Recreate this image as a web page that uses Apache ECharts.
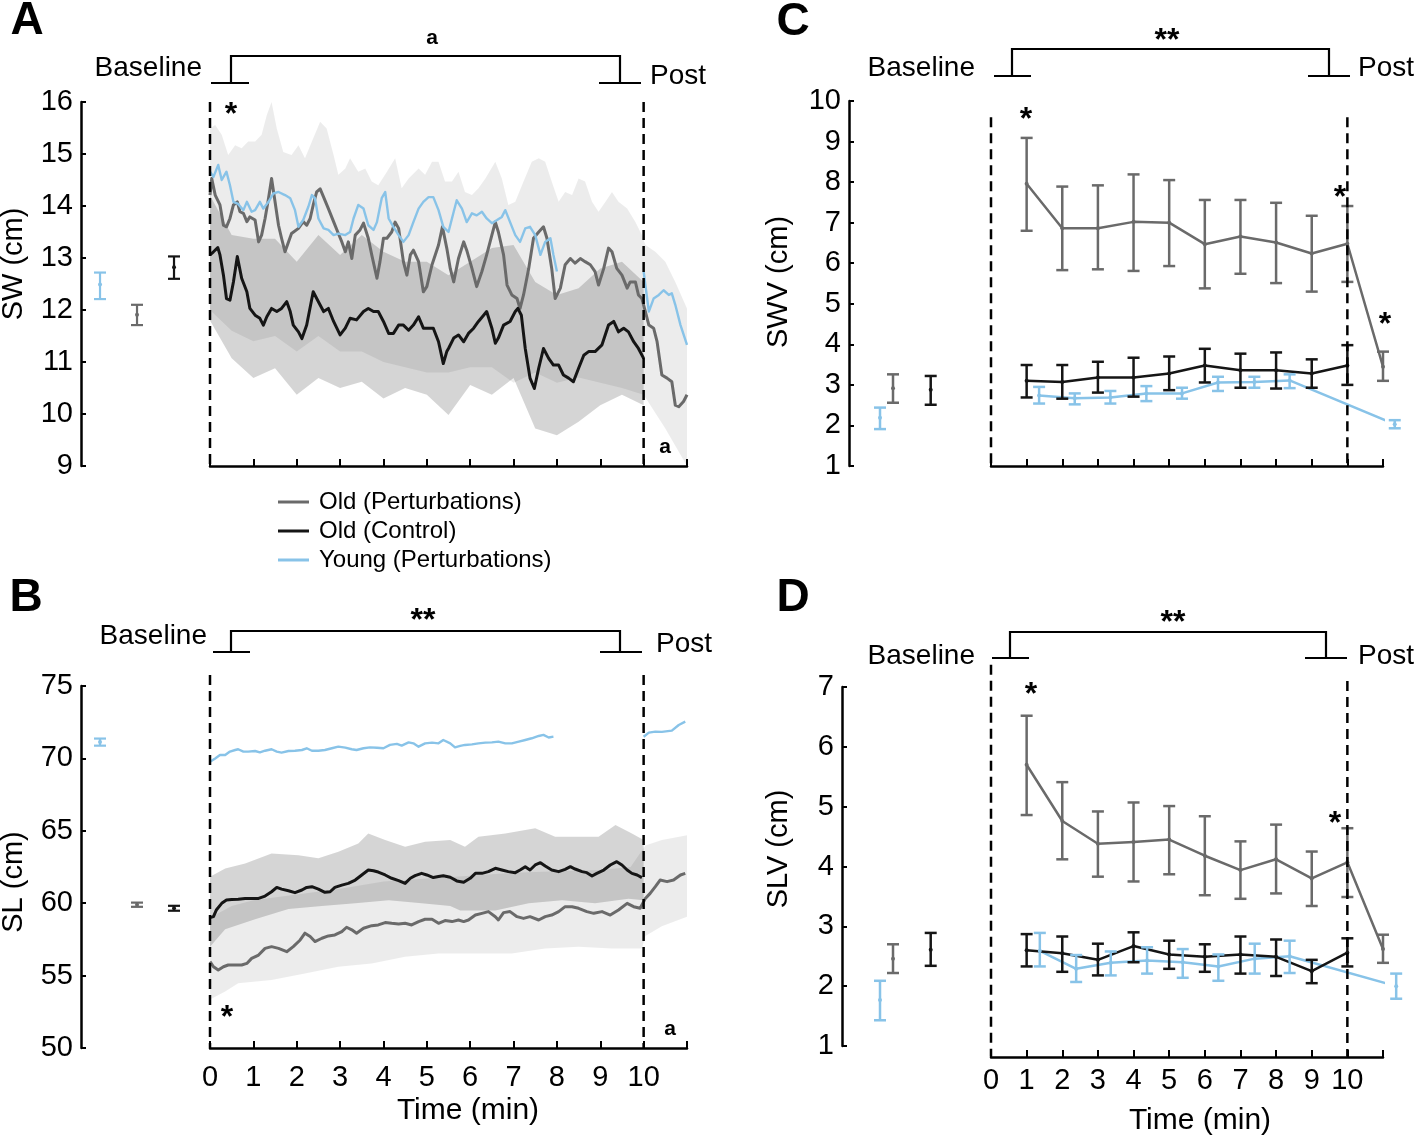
<!DOCTYPE html>
<html><head><meta charset="utf-8">
<script src="https://cdn.jsdelivr.net/npm/echarts@6/dist/echarts.min.js"></script>
<style>html,body{margin:0;padding:0;background:#fff}#c{width:1418px;height:1141px}</style>
</head><body><div id="c"></div>
<script>
// ---------------- DATA ----------------
const SERIES_NAMES = ['Old (Perturbations)', 'Old (Control)', 'Young (Perturbations)'];
const X_TICK_LABELS = ['0','1','2','3','4','5','6','7','8','9','10',''];

// Panel A: SW (cm), [time (min), value]
const A_oldP = [[0,14.21],[0.04,14.53],[0.12,14.21],[0.23,14.02],[0.31,13.63],[0.38,13.6],[0.46,13.76],[0.54,14.02],[0.63,14.08],[0.69,13.89],[0.77,13.86],[0.85,13.7],[0.92,13.79],[1.04,13.73],[1.12,13.31],[1.19,13.44],[1.27,13.76],[1.35,14.15],[1.42,14.53],[1.5,14.08],[1.58,13.63],[1.65,13.38],[1.73,13.12],[1.81,13.31],[1.88,13.47],[2.04,13.57],[2.15,13.7],[2.23,13.63],[2.31,13.76],[2.38,14.02],[2.46,14.27],[2.54,14.33],[2.62,14.17],[2.73,13.95],[2.85,13.7],[2.96,13.47],[3.04,13.31],[3.12,13.12],[3.19,13.31],[3.27,12.99],[3.35,13.44],[3.46,13.54],[3.54,13.67],[3.65,13.38],[3.73,13.06],[3.85,12.61],[3.92,12.93],[4.0,13.38],[4.08,13.38],[4.19,13.5],[4.27,13.69],[4.35,13.57],[4.46,12.93],[4.54,12.67],[4.62,13.06],[4.69,13.15],[4.81,12.93],[4.92,12.35],[5.0,12.45],[5.12,12.87],[5.27,13.25],[5.36,13.6],[5.46,13.19],[5.54,12.8],[5.62,12.54],[5.73,12.99],[5.85,13.31],[5.92,13.15],[6.04,12.8],[6.15,12.45],[6.27,12.74],[6.38,13.06],[6.5,13.44],[6.58,13.69],[6.65,13.5],[6.77,13.06],[6.85,12.48],[6.96,12.29],[7.08,12.22],[7.15,12.03],[7.23,12.29],[7.35,12.8],[7.46,13.38],[7.58,13.5],[7.69,13.6],[7.77,13.38],[7.88,12.8],[7.96,12.22],[8.08,12.42],[8.19,12.87],[8.31,12.99],[8.42,12.9],[8.54,12.99],[8.65,12.93],[8.77,12.87],[8.88,12.74],[8.96,12.48],[9.08,12.8],[9.19,13.19],[9.27,13.12],[9.38,12.8],[9.5,12.67],[9.62,12.42],[9.69,12.54],[9.81,12.54],[9.88,12.29],[9.96,12.22],[10.04,11.97],[10.12,11.71],[10.23,11.65],[10.31,11.39],[10.42,10.75],[10.54,10.69],[10.65,10.62],[10.73,10.17],[10.81,10.14],[10.92,10.24],[11.0,10.37]];
const A_oldC = [[0,13.06],[0.08,13.12],[0.18,13.2],[0.23,13.06],[0.31,12.67],[0.38,12.22],[0.46,12.19],[0.54,12.54],[0.63,13.03],[0.73,12.61],[0.85,12.35],[0.92,12.03],[1.04,11.9],[1.15,11.84],[1.23,11.71],[1.31,11.87],[1.42,12.03],[1.54,11.97],[1.65,12.03],[1.77,12.16],[1.85,11.97],[1.92,11.71],[2.04,11.58],[2.12,11.45],[2.23,11.71],[2.38,12.35],[2.5,12.16],[2.62,11.97],[2.73,12.03],[2.85,11.78],[3.0,11.52],[3.12,11.65],[3.23,11.84],[3.38,11.81],[3.54,11.97],[3.65,12.03],[3.77,11.97],[3.88,11.97],[4.0,11.78],[4.12,11.55],[4.23,11.55],[4.35,11.71],[4.46,11.71],[4.58,11.61],[4.69,11.71],[4.81,11.87],[4.92,11.65],[5.04,11.65],[5.15,11.65],[5.27,11.39],[5.38,10.97],[5.46,11.2],[5.5,11.26],[5.62,11.46],[5.73,11.52],[5.85,11.39],[5.96,11.55],[6.08,11.65],[6.19,11.78],[6.31,11.9],[6.38,11.97],[6.5,11.65],[6.58,11.36],[6.65,11.46],[6.77,11.71],[6.92,11.78],[7.04,11.97],[7.1,12.03],[7.18,11.9],[7.27,11.26],[7.38,10.69],[7.48,10.49],[7.58,10.88],[7.69,11.26],[7.81,11.07],[7.92,10.94],[8.04,10.94],[8.15,10.75],[8.27,10.69],[8.38,10.62],[8.5,10.88],[8.62,11.13],[8.73,11.2],[8.88,11.2],[9.04,11.33],[9.19,11.71],[9.31,11.78],[9.42,11.58],[9.54,11.65],[9.65,11.58],[9.77,11.39],[9.88,11.26],[10.0,11.07]];
const A_young = [[0,14.66],[0.08,14.56],[0.19,14.79],[0.27,14.5],[0.38,14.66],[0.46,14.4],[0.54,14.08],[0.65,14.04],[0.77,13.92],[0.85,14.08],[0.96,13.89],[1.04,13.92],[1.15,14.08],[1.23,13.95],[1.35,14.08],[1.46,14.24],[1.58,14.27],[1.73,14.21],[1.85,14.15],[1.96,13.92],[2.04,13.6],[2.15,13.73],[2.27,13.99],[2.35,14.21],[2.42,14.15],[2.5,13.76],[2.62,13.57],[2.73,13.54],[2.85,13.44],[2.96,13.47],[3.12,13.44],[3.23,13.5],[3.31,13.76],[3.42,14.02],[3.54,13.95],[3.65,13.63],[3.77,13.54],[3.85,13.69],[3.96,14.15],[4.04,14.27],[4.12,13.76],[4.23,13.6],[4.35,13.44],[4.46,13.31],[4.58,13.44],[4.69,13.69],[4.81,13.95],[4.92,14.08],[5.04,14.17],[5.15,14.17],[5.27,13.92],[5.38,13.6],[5.5,13.5],[5.62,13.89],[5.69,14.11],[5.81,13.95],[5.92,13.69],[6.04,13.86],[6.15,13.82],[6.27,13.89],[6.38,13.76],[6.5,13.67],[6.62,13.73],[6.73,13.79],[6.81,13.92],[6.92,13.69],[7.04,13.44],[7.15,13.31],[7.27,13.57],[7.38,13.6],[7.5,13.44],[7.62,13.06],[7.73,13.31],[7.85,13.38],[7.92,13.06],[8.0,12.74]];
const A_youngPost = [[10.0,12.74],[10.12,11.97],[10.23,12.22],[10.35,12.29],[10.46,12.38],[10.58,12.29],[10.65,12.32],[10.73,12.1],[10.85,11.71],[11.0,11.33]];
const A_bandOldC_top = [[0,14.2],[0.5,13.44],[1,13.37],[1.5,13.37],[2,12.93],[2.5,13.44],[3,13.06],[3.5,13.44],[4,13.12],[4.5,12.93],[5,12.93],[5.5,12.67],[6,12.93],[6.5,13.19],[7,13.25],[7.5,12.54],[8,12.29],[8.5,12.42],[9,12.8],[9.5,12.93],[10,12.54]];
const A_bandOldC_bot = [[0,11.8],[0.5,11.07],[1,10.69],[1.5,10.88],[2,10.37],[2.5,10.69],[3,10.5],[3.5,10.62],[4,10.3],[4.5,10.5],[5,10.37],[5.5,9.98],[6,10.56],[6.5,10.37],[7,10.69],[7.5,9.72],[8,9.59],[8.5,9.85],[9,10.17],[9.5,10.37],[10,10.17]];
const A_bandOldP_top = [[0,15.49],[0.12,15.56],[0.27,15.37],[0.42,14.98],[0.58,15.17],[0.73,15.11],[0.88,15.24],[1.04,15.24],[1.19,15.37],[1.31,15.75],[1.42,16.0],[1.54,15.49],[1.69,15.04],[1.88,14.98],[2.04,15.17],[2.19,14.92],[2.35,15.24],[2.54,15.62],[2.69,15.49],[2.85,14.98],[2.96,14.6],[3.12,14.72],[3.23,14.92],[3.42,14.66],[3.58,14.72],[3.73,14.47],[3.88,14.4],[4.08,14.66],[4.27,14.92],[4.42,14.34],[4.58,14.53],[4.81,14.72],[4.96,14.6],[5.12,14.85],[5.27,14.85],[5.42,14.47],[5.58,14.47],[5.73,14.66],[5.88,14.27],[6.04,14.21],[6.19,14.34],[6.35,14.53],[6.58,14.85],[6.73,14.53],[6.88,14.02],[7.04,14.08],[7.23,14.47],[7.42,14.85],[7.58,14.92],[7.73,14.85],[7.88,14.47],[8.04,14.08],[8.19,14.27],[8.35,14.21],[8.5,14.53],[8.65,14.47],[8.81,14.08],[8.96,13.89],[9.12,14.08],[9.27,14.27],[9.42,14.08],[9.62,13.95],[9.81,13.69],[9.96,13.44],[10.04,13.25],[10.27,13.12],[10.5,12.93],[10.73,12.54],[11.0,12.03]];
const A_bandOldP_bot = [[0,12.0],[0.5,11.6],[1,11.4],[1.5,11.5],[2,11.2],[2.5,11.5],[3,11.2],[3.5,11.2],[4,11.0],[4.5,10.9],[5,10.8],[5.5,10.8],[6,10.9],[6.5,10.9],[7,10.6],[7.5,10.8],[8,10.6],[8.5,10.7],[9,10.6],[9.5,10.5],[10,10.37],[10.5,9.72],[11,9.0]];
// baseline order: Young, Old (Perturbations), Old (Control)
const A_baseMean = [12.49, 11.91, 12.82];
const A_baseLo = [12.21, 11.71, 12.6];
const A_baseHi = [12.72, 12.1, 13.03];

// Panel B: SL (cm)
const B_oldP = [[0,55.96],[0.08,55.61],[0.19,55.38],[0.31,55.61],[0.42,55.73],[0.58,55.73],[0.73,55.73],[0.85,55.84],[0.96,56.19],[1.12,56.42],[1.27,56.88],[1.42,57.0],[1.58,56.88],[1.77,56.65],[1.92,57.0],[2.08,57.46],[2.19,57.93],[2.31,57.7],[2.42,57.35],[2.58,57.58],[2.73,57.74],[2.88,57.81],[3.04,58.04],[3.15,58.34],[3.27,58.16],[3.38,57.93],[3.54,58.27],[3.73,58.45],[3.88,58.5],[4.04,58.66],[4.19,58.61],[4.35,58.57],[4.5,58.61],[4.65,58.5],[4.81,58.73],[4.96,58.89],[5.12,58.89],[5.27,58.61],[5.42,58.8],[5.58,58.73],[5.73,58.84],[5.85,58.73],[5.96,58.84],[6.12,59.18],[6.27,59.3],[6.42,59.42],[6.58,59.07],[6.65,58.84],[6.77,59.35],[6.92,59.42],[7.08,59.07],[7.23,58.95],[7.38,59.07],[7.58,58.84],[7.73,59.07],[7.88,59.18],[8.04,59.42],[8.19,59.76],[8.35,59.76],[8.5,59.65],[8.69,59.42],[8.85,59.3],[9.04,59.42],[9.23,59.18],[9.42,59.53],[9.62,59.99],[9.77,59.76],[9.92,59.65],[10.04,60.33],[10.15,60.68],[10.27,61.14],[10.38,61.6],[10.54,61.49],[10.69,61.6],[10.85,61.95],[10.96,62.06]];
const B_oldC = [[0,59.0],[0.08,59.07],[0.15,59.55],[0.27,59.99],[0.38,60.22],[0.5,60.26],[0.65,60.28],[0.81,60.33],[0.96,60.33],[1.12,60.33],[1.27,60.49],[1.42,60.79],[1.54,61.09],[1.65,60.97],[1.81,60.86],[1.96,60.73],[2.12,60.91],[2.23,61.09],[2.35,61.14],[2.5,60.97],[2.65,60.75],[2.77,60.79],[2.88,61.09],[3.04,61.25],[3.19,61.37],[3.35,61.6],[3.5,61.95],[3.65,62.29],[3.77,62.24],[3.88,62.15],[4.04,61.95],[4.19,61.72],[4.35,61.56],[4.5,61.37],[4.62,61.72],[4.73,61.9],[4.88,62.06],[5.0,61.95],[5.15,61.77],[5.27,61.84],[5.38,61.9],[5.54,61.79],[5.69,61.54],[5.85,61.45],[6.0,61.72],[6.12,62.06],[6.27,62.06],[6.42,62.18],[6.58,62.41],[6.73,62.29],[6.88,62.18],[7.04,62.11],[7.15,62.29],[7.27,62.52],[7.38,62.29],[7.5,62.64],[7.62,62.8],[7.73,62.57],[7.88,62.29],[8.04,62.18],[8.19,62.34],[8.31,62.52],[8.42,62.36],[8.58,62.18],[8.69,62.11],[8.81,61.88],[8.92,62.06],[9.08,62.29],[9.23,62.64],[9.38,62.87],[9.5,62.64],[9.62,62.29],[9.73,62.06],[9.85,61.95],[9.96,61.77]];
const B_young = [[0,69.77],[0.12,70.0],[0.23,70.23],[0.35,70.23],[0.46,70.47],[0.58,70.58],[0.65,70.63],[0.77,70.47],[0.88,70.47],[1.04,70.51],[1.15,70.42],[1.27,70.53],[1.42,70.63],[1.54,70.47],[1.65,70.4],[1.81,70.51],[1.96,70.53],[2.12,70.58],[2.23,70.7],[2.35,70.53],[2.5,70.53],[2.65,70.58],[2.81,70.7],[2.96,70.81],[3.12,70.74],[3.27,70.63],[3.38,70.58],[3.54,70.7],[3.69,70.76],[3.85,70.74],[4.0,70.7],[4.15,70.93],[4.31,71.0],[4.42,70.88],[4.58,71.11],[4.69,71.04],[4.81,70.81],[4.96,71.04],[5.12,71.09],[5.27,71.04],[5.38,71.27],[5.54,71.04],[5.65,70.76],[5.77,70.86],[5.88,70.93],[6.04,70.97],[6.19,71.04],[6.35,71.09],[6.5,71.11],[6.65,71.16],[6.81,71.04],[6.96,71.04],[7.12,71.16],[7.27,71.27],[7.42,71.39],[7.58,71.55],[7.69,71.62],[7.81,71.44],[7.92,71.5]];
const B_youngPost = [[10.0,71.5],[10.12,71.78],[10.27,71.85],[10.42,71.83],[10.65,71.92],[10.81,72.31],[10.96,72.54]];
const B_bandOldC_top = [[0,61.83],[0.35,62.4],[0.81,62.74],[1.42,63.43],[2.04,63.32],[2.5,63.1],[2.96,63.55],[3.42,64.13],[3.65,64.82],[4.04,64.36],[4.5,63.9],[4.96,64.24],[5.54,64.36],[5.88,63.9],[6.19,64.59],[6.81,64.82],[7.5,65.17],[7.96,64.59],[8.5,64.59],[8.96,64.59],[9.35,65.4],[9.73,64.82],[10,64.36]];
const B_bandOldC_bot = [[0,57.0],[0.35,58.2],[1.04,58.9],[1.81,59.6],[2.58,59.8],[3.35,60.0],[4.12,60.2],[4.88,60.0],[5.54,59.8],[5.77,59.5],[6.58,59.5],[7.35,60.0],[8.12,60.2],[8.88,60.0],[9.65,60.3],[10,60.2]];
const B_bandOldP_top = [[0,59.0],[0.5,59.8],[1,60.2],[2,60.6],[3,61.0],[4,61.5],[5,61.7],[6,61.9],[7,62.1],[8,62.2],[9,62.3],[9.7,62.5],[10.04,63.99],[10.42,64.36],[11,64.7]];
const B_bandOldP_bot = [[0,53.35],[0.35,53.9],[0.65,54.47],[1.42,54.7],[2.19,55.15],[2.96,55.61],[3.73,55.84],[4.5,56.3],[5.27,56.53],[6.19,56.53],[6.96,56.53],[7.73,56.88],[8.5,57.0],[9.27,56.88],[9.96,56.88],[10.04,57.74],[10.42,58.4],[11,59.07]];
const B_baseMean = [71.13, 59.9, 59.65];
const B_baseLo = [70.88, 59.75, 59.48];
const B_baseHi = [71.37, 60.04, 59.82];

// Panel C: SWV (cm)
const C_oldP_t = [1,2,3,4,5,6,7,8,9,10,11];
const C_oldP_mean = [7.96,6.86,6.86,7.02,7.0,6.47,6.66,6.51,6.24,6.48,3.45];
const C_oldP_lo = [6.8,5.83,5.85,5.81,5.93,5.38,5.74,5.51,5.3,5.54,3.1];
const C_oldP_hi = [9.09,7.89,7.92,8.19,8.05,7.56,7.56,7.49,7.17,7.41,3.82];
const C_oldC_t = [1,2,3,4,5,6,7,8,9,10];
const C_oldC_mean = [3.1,3.07,3.18,3.18,3.28,3.48,3.36,3.36,3.28,3.48];
const C_oldC_lo = [2.69,2.66,2.81,2.71,2.87,3.06,2.93,2.91,2.93,3.0];
const C_oldC_hi = [3.49,3.49,3.57,3.67,3.7,3.89,3.77,3.8,3.63,3.98];
const C_young_t = [1.35,2.35,3.35,4.36,5.36,6.37,7.39,8.38,11.33];
const C_young_mean = [2.74,2.67,2.69,2.79,2.79,3.06,3.07,3.11,2.03];
const C_young_lo = [2.54,2.52,2.54,2.6,2.66,2.85,2.93,2.92,1.93];
const C_young_hi = [2.95,2.79,2.85,2.97,2.93,3.2,3.2,3.26,2.13];
const C_baseMean = [2.19, 2.92, 2.88];
const C_baseLo = [1.91, 2.56, 2.51];
const C_baseHi = [2.44, 3.26, 3.22];

// Panel D: SLV (cm)
const D_oldP_t = [1,2,3,4,5,6,7,8,9,10,11];
const D_oldP_mean = [5.7,4.76,4.38,4.41,4.45,4.18,3.94,4.12,3.8,4.07,2.62];
const D_oldP_lo = [4.86,4.12,3.83,3.75,3.87,3.52,3.46,3.55,3.34,3.49,2.39];
const D_oldP_hi = [6.52,5.41,4.92,5.07,5.01,4.84,4.42,4.7,4.25,4.64,2.86];
const D_oldC_t = [1,2,3,4,5,6,7,8,9,10];
const D_oldC_mean = [2.6,2.55,2.44,2.67,2.53,2.49,2.53,2.49,2.25,2.56];
const D_oldC_lo = [2.33,2.24,2.18,2.4,2.29,2.24,2.21,2.17,2.05,2.33];
const D_oldC_hi = [2.87,2.83,2.71,2.9,2.76,2.7,2.83,2.78,2.44,2.8];
const D_young_t = [1.37,2.39,3.36,4.38,5.38,6.38,7.4,8.38,11.37];
const D_young_mean = [2.59,2.29,2.39,2.43,2.4,2.33,2.46,2.5,2.0];
const D_young_lo = [2.33,2.07,2.18,2.21,2.14,2.09,2.21,2.22,1.79];
const D_young_hi = [2.89,2.52,2.58,2.65,2.62,2.53,2.71,2.76,2.21];
const D_baseMean = [1.77, 2.46, 2.61];
const D_baseLo = [1.43, 2.22, 2.34];
const D_baseHi = [2.09, 2.7, 2.89];

// ---------------- LAYOUT / STYLE ----------------
const FONT = '"Liberation Sans", Arial, Helvetica, sans-serif';
const COL = { oldP: '#6a6a6a', oldC: '#151515', young: '#88c3e8' };
const BAND = { oldC: 'rgba(0,0,0,0.165)', oldP: 'rgba(0,0,0,0.075)' };
const GRIDS = [
  {left:81, top:102, width:110, height:364},   // 0 A baseline
  {left:210, top:102, width:477, height:364},  // 1 A main
  {left:81, top:686, width:110, height:362},   // 2 B baseline
  {left:210, top:686, width:477, height:362},  // 3 B main
  {left:849, top:101, width:110, height:365},  // 4 C baseline
  {left:991, top:101, width:392, height:365},  // 5 C main
  {left:842, top:687, width:110, height:359},  // 6 D baseline
  {left:991, top:687, width:392, height:359}   // 7 D main
];
// baseline slot positions (Young, Old P, Old C) on hidden axes
const SLOT_AB = [0, 1, 2], SLOT_CD = [0, 1, 3.9];
const BASE_X_RANGE = [[-0.514, 2.459], [-0.514, 2.459], [-2.385, 6.077], [-2.923, 5.538]];
const Y_RANGE = [[9, 16, 1], [50, 75, 5], [1, 10, 1], [1, 7, 1]];

const chart = echarts.init(document.getElementById('c'), null, {renderer: 'canvas'});

const zip4 = (t, m, lo, hi) => t.map((x, i) => [x, m[i], lo[i], hi[i]]);
const zip2 = (t, m) => t.map((x, i) => [x, m[i]]);

function errRender(color, lw, cap) {
  return function (params, api) {
    const x = api.value(0), m = api.value(1), lo = api.value(2), hi = api.value(3);
    const a = api.coord([x, hi]), b = api.coord([x, lo]), c = api.coord([x, m]);
    const st = {stroke: color, lineWidth: lw, fill: null};
    return {type: 'group', children: [
      {type: 'line', shape: {x1: a[0], y1: a[1], x2: b[0], y2: b[1]}, style: st},
      {type: 'line', shape: {x1: a[0] - cap, y1: a[1], x2: a[0] + cap, y2: a[1]}, style: st},
      {type: 'line', shape: {x1: b[0] - cap, y1: b[1], x2: b[0] + cap, y2: b[1]}, style: st},
      {type: 'circle', shape: {cx: c[0], cy: c[1], r: 2}, style: {fill: color}}
    ]};
  };
}
function bandRender(top, bot, fill) {
  return function (params, api) {
    if (params.dataIndex !== 0) return null;
    const pts = top.map(p => api.coord(p)).concat(bot.slice().reverse().map(p => api.coord(p)));
    return {type: 'polygon', shape: {points: pts}, style: {fill: fill}, silent: true};
  };
}

const xAxes = [], yAxes = [];
const axisLine = {show: true, onZero: false, lineStyle: {color: '#000', width: 2.5}};
for (let p = 0; p < 4; p++) {
  const [ymin, ymax, yint] = Y_RANGE[p];
  // baseline grid
  xAxes.push({gridIndex: 2 * p, type: 'value', min: BASE_X_RANGE[p][0], max: BASE_X_RANGE[p][1], show: false,
    axisLine: {onZero: false}});
  yAxes.push({gridIndex: 2 * p, type: 'value', min: ymin, max: ymax, interval: yint,
    axisLine: axisLine, splitLine: {show: false},
    axisTick: {show: true, inside: true, length: 5, lineStyle: {color: '#000', width: 2}},
    axisLabel: {color: '#000', fontSize: 29, fontFamily: FONT, margin: 8}});
  // main grid
  const showLab = (p === 1 || p === 3);
  xAxes.push({gridIndex: 2 * p + 1, type: 'value', min: 0, max: 11, interval: 1,
    offset: p === 3 ? 11 : 0,
    axisLine: axisLine, splitLine: {show: false},
    axisTick: {show: true, inside: true, length: 7, lineStyle: {color: '#000', width: 2}},
    axisLabel: {show: showLab, color: '#000', fontSize: 29, fontFamily: FONT, margin: p === 1 ? 15 : 9,
      formatter: v => X_TICK_LABELS[Math.round(v)]}});
  yAxes.push({gridIndex: 2 * p + 1, type: 'value', min: ymin, max: ymax, interval: yint, show: false,
    axisLine: {onZero: false}});
}

const series = [];
function lineS(gi, name, data, color, w, extra) {
  series.push(Object.assign({type: 'line', name: name, xAxisIndex: gi, yAxisIndex: gi, data: data,
    symbol: 'none', showSymbol: false, clip: false, animation: false, z: 3,
    lineStyle: {color: color, width: w, join: 'round'}, itemStyle: {color: color}}, extra || {}));
}
function errS(gi, data, color, lw) {
  series.push({type: 'custom', xAxisIndex: gi, yAxisIndex: gi, data: data, z: 4, clip: false,
    encode: {x: 0, y: [1, 2, 3]}, renderItem: errRender(color, lw, 6), itemStyle: {color: color}});
}
function bandS(gi, top, bot, fill) {
  series.push({type: 'custom', xAxisIndex: gi, yAxisIndex: gi, data: top, z: 1, silent: true,
    encode: {x: 0, y: 1}, renderItem: bandRender(top, bot, fill)});
}
function baselineS(gi, slots, mean, lo, hi, lw) {
  const cols = [COL.young, COL.oldP, COL.oldC];
  for (let i = 0; i < 3; i++) errS(gi, [[slots[i], mean[i], lo[i], hi[i]]], cols[i], lw);
}

// Panel A
bandS(1, A_bandOldP_top, A_bandOldP_bot, BAND.oldP);
bandS(1, A_bandOldC_top, A_bandOldC_bot, BAND.oldC);
lineS(1, SERIES_NAMES[0], A_oldP, COL.oldP, 3);
lineS(1, SERIES_NAMES[1], A_oldC, COL.oldC, 3);
lineS(1, SERIES_NAMES[2], A_young, COL.young, 2.4);
lineS(1, SERIES_NAMES[2], A_youngPost, COL.young, 2.4);
baselineS(0, SLOT_AB, A_baseMean, A_baseLo, A_baseHi, 2.2);
// Panel B
bandS(3, B_bandOldP_top, B_bandOldP_bot, BAND.oldP);
bandS(3, B_bandOldC_top, B_bandOldC_bot, BAND.oldC);
lineS(3, SERIES_NAMES[0], B_oldP, COL.oldP, 3);
lineS(3, SERIES_NAMES[1], B_oldC, COL.oldC, 3);
lineS(3, SERIES_NAMES[2], B_young, COL.young, 2.4);
lineS(3, SERIES_NAMES[2], B_youngPost, COL.young, 2.4);
baselineS(2, SLOT_AB, B_baseMean, B_baseLo, B_baseHi, 2.2);
// Panel C
lineS(5, SERIES_NAMES[2], zip2(C_young_t, C_young_mean), COL.young, 2.5);
errS(5, zip4(C_young_t, C_young_mean, C_young_lo, C_young_hi), COL.young, 2.5);
lineS(5, SERIES_NAMES[0], zip2(C_oldP_t, C_oldP_mean), COL.oldP, 2.5);
errS(5, zip4(C_oldP_t, C_oldP_mean, C_oldP_lo, C_oldP_hi), COL.oldP, 2.5);
lineS(5, SERIES_NAMES[1], zip2(C_oldC_t, C_oldC_mean), COL.oldC, 2.5);
errS(5, zip4(C_oldC_t, C_oldC_mean, C_oldC_lo, C_oldC_hi), COL.oldC, 2.5);
baselineS(4, SLOT_CD, C_baseMean, C_baseLo, C_baseHi, 2.5);
// Panel D
lineS(7, SERIES_NAMES[2], zip2(D_young_t, D_young_mean), COL.young, 2.5);
errS(7, zip4(D_young_t, D_young_mean, D_young_lo, D_young_hi), COL.young, 2.5);
lineS(7, SERIES_NAMES[0], zip2(D_oldP_t, D_oldP_mean), COL.oldP, 2.5);
errS(7, zip4(D_oldP_t, D_oldP_mean, D_oldP_lo, D_oldP_hi), COL.oldP, 2.5);
lineS(7, SERIES_NAMES[1], zip2(D_oldC_t, D_oldC_mean), COL.oldC, 2.5);
errS(7, zip4(D_oldC_t, D_oldC_mean, D_oldC_lo, D_oldC_hi), COL.oldC, 2.5);
baselineS(6, SLOT_CD, D_baseMean, D_baseLo, D_baseHi, 2.5);

chart.setOption({
  animation: false,
  backgroundColor: '#fff',
  grid: GRIDS,
  xAxis: xAxes,
  yAxis: yAxes,
  legend: {data: SERIES_NAMES, orient: 'vertical', left: 273, top: 485, itemGap: 5,
    itemWidth: 31, itemHeight: 3, icon: 'rect', selectedMode: false,
    textStyle: {fontSize: 24, fontFamily: FONT, color: '#000', padding: [0, 0, 0, 5], lineHeight: 24}},
  series: series
});

// ---------------- ANNOTATIONS ----------------
function T(x, y, text, size, o) {
  o = o || {};
  const al = o.align || 'center', va = o.va || 'middle';
  return {type: 'text', x: x, y: y, rotation: o.rot || 0, z: 20,
    style: {text: text, fontSize: size, fontFamily: FONT, fontWeight: o.bold ? 'bold' : 'normal', fill: '#000',
      align: al, verticalAlign: va, textAlign: al, textVerticalAlign: va}};
}
function L(x1, y1, x2, y2, w, dash) {
  return {type: 'line', z: 15, shape: {x1, y1, x2, y2}, style: {stroke: '#000', lineWidth: w || 2.2, lineDash: dash || null}};
}
function bracket(yTop, yFoot, xv1, xv2, f1, f2) {
  return [
    {type: 'polyline', z: 15, shape: {points: [[xv1, yFoot], [xv1, yTop], [xv2, yTop], [xv2, yFoot]]}, style: {stroke: '#000', lineWidth: 2.2, fill: null}},
    L(f1[0], yFoot, f1[1], yFoot, 2.2), L(f2[0], yFoot, f2[1], yFoot, 2.2)
  ];
}
function dashed(gi, t, vTop, vBot) {
  const a = chart.convertToPixel({gridIndex: gi}, [t, vTop]);
  const b = chart.convertToPixel({gridIndex: gi}, [t, vBot]);
  return L(a[0], a[1], b[0], b[1], 2.5, [10, 6]);
}
// asterisk glyphs sit high in the em box: shift the anchor down so the glyph centre lands on (x, y)
const star = (x, y, s) => T(x, y + 5, s, 32, {bold: true});
const g = [];
// panel letters
g.push(T(27, 21, 'A', 46, {bold: true}), T(26, 598, 'B', 46, {bold: true}), T(793, 22, 'C', 46, {bold: true}), T(793, 598, 'D', 46, {bold: true}));
// axis names
g.push(T(14, 264, 'SW (cm)', 29, {rot: Math.PI / 2}), T(14, 882, 'SL (cm)', 29, {rot: Math.PI / 2}),
       T(779, 282, 'SWV (cm)', 29, {rot: Math.PI / 2}), T(779, 849, 'SLV (cm)', 29, {rot: Math.PI / 2}));
g.push(T(468, 1111, 'Time (min)', 30), T(1200, 1121, 'Time (min)', 30));
// Baseline / Post labels
g.push(T(202, 68, 'Baseline', 28, {align: 'right'}), T(650, 76, 'Post', 28, {align: 'left'}));
g.push(T(207, 636, 'Baseline', 28, {align: 'right'}), T(656, 644, 'Post', 28, {align: 'left'}));
g.push(T(975, 68, 'Baseline', 28, {align: 'right'}), T(1358, 68, 'Post', 28, {align: 'left'}));
g.push(T(975, 656, 'Baseline', 28, {align: 'right'}), T(1358, 656, 'Post', 28, {align: 'left'}));
// brackets
g.push(...bracket(56, 83, 231, 620, [211, 249], [599, 641]));
g.push(...bracket(631, 652, 231, 620, [213, 250], [600, 642]));
g.push(...bracket(49, 76, 1012, 1329, [994, 1031], [1308, 1350]));
g.push(...bracket(632, 658, 1010, 1326, [992, 1029], [1305, 1347]));
// significance marks
g.push(T(432, 38, 'a', 21, {bold: true}), T(665, 447, 'a', 21, {bold: true}), T(670, 1029, 'a', 21, {bold: true}));
g.push(star(423, 616, '**'), star(1167, 36, '**'), star(1173, 618, '**'));
g.push(star(231, 110, '*'), star(227, 1013, '*'));
g.push(star(1026, 115, '*'), star(1340, 193, '*'), star(1385, 320, '*'));
g.push(star(1031, 690, '*'), star(1335, 819, '*'));
// dashed reference lines at t = 0 and t = 10
g.push(dashed(1, 0, 16, 9), dashed(1, 10, 16, 9));
g.push(dashed(3, 0, 75.76, 50), dashed(3, 10, 75.76, 50));
g.push(dashed(5, 0, 9.6, 1), dashed(5, 10, 9.6, 1));
g.push(dashed(7, 0, 7.37, 0.82), dashed(7, 10, 7.1, 0.82));
chart.setOption({graphic: {elements: g}});
</script>
</body></html>
